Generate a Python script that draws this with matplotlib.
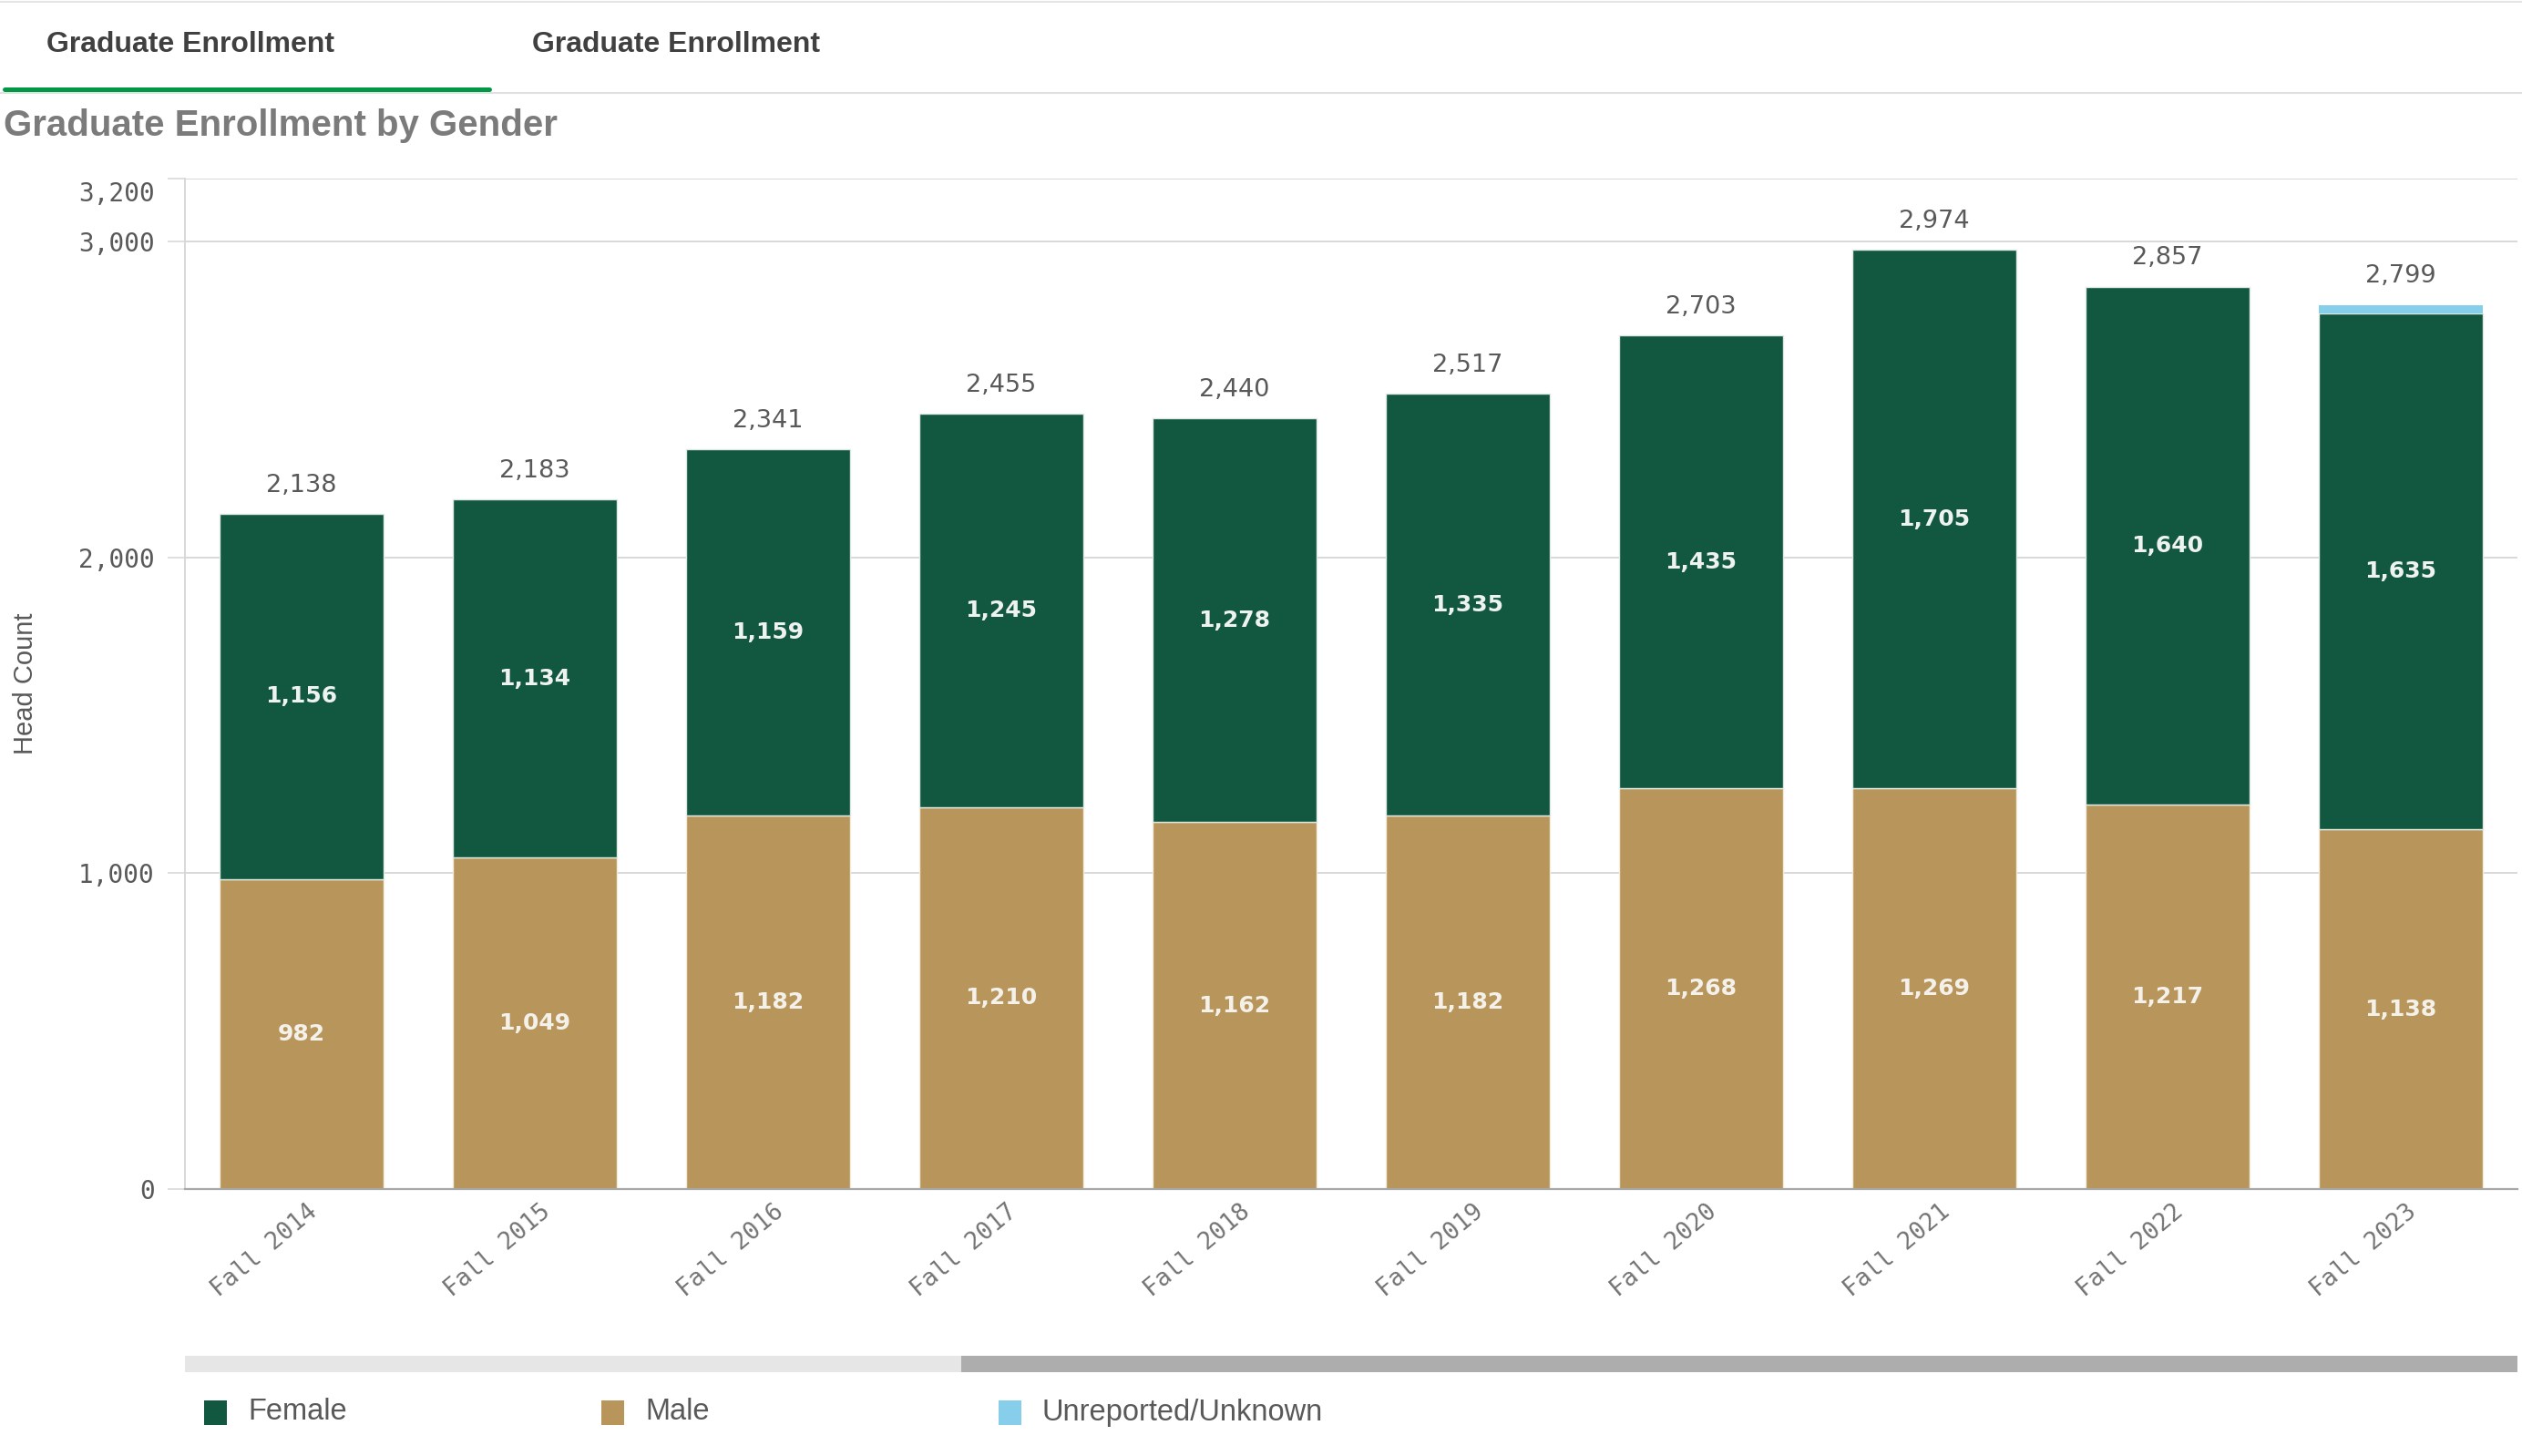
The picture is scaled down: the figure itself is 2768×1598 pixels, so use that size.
import numpy as np
import matplotlib
matplotlib.use("Agg")
import matplotlib.pyplot as plt
from matplotlib.patches import Rectangle
from matplotlib.lines import Line2D
from matplotlib.transforms import ScaledTranslation

# ---------------- data ----------------
terms = ["Fall 2014", "Fall 2015", "Fall 2016", "Fall 2017", "Fall 2018",
         "Fall 2019", "Fall 2020", "Fall 2021", "Fall 2022", "Fall 2023"]
male = [982, 1049, 1182, 1210, 1162, 1182, 1268, 1269, 1217, 1138]
female = [1156, 1134, 1159, 1245, 1278, 1335, 1435, 1705, 1640, 1635]
unknown = [0, 0, 0, 0, 0, 0, 0, 0, 0, 26]
series_names = ["Female", "Male", "Unreported/Unknown"]
series_colors = ["#125740", "#b8955a", "#87ceeb"]
y_ticks = [0, 1000, 2000, 3000, 3200]
y_tick_labels = ["0", "1,000", "2,000", "3,000", "3,200"]

W, H = 2768, 1598
fig = plt.figure(figsize=(W / 100, H / 100), dpi=100)
fig.patch.set_facecolor("white")

TEXT_FONT = ["Liberation Sans", "DejaVu Sans"]
NUM_FONT = ["DejaVu Sans Mono"]

ax_left, ax_right, ax_bottom_px, ax_top_px = 203, 2763, 1305, 195.6
ax = fig.add_axes([ax_left / W, 1 - ax_bottom_px / H,
                   (ax_right - ax_left) / W, (ax_bottom_px - ax_top_px) / H])

x = np.arange(len(terms))
male_a = np.array(male)
female_a = np.array(female)
unk_a = np.array(unknown)
totals = male_a + female_a + unk_a
bw = 0.70

ax.bar(x, male_a, bw, color=series_colors[1], edgecolor="#f2ece0", linewidth=1.0, zorder=3)
ax.bar(x, female_a, bw, bottom=male_a, color=series_colors[0], edgecolor="#dfe9e4", linewidth=1.0, zorder=3)
ax.bar(x, unk_a, bw, bottom=male_a + female_a, color=series_colors[2], linewidth=0, zorder=3)

# labels
for i in range(len(terms)):
    ax.text(x[i], male_a[i] / 2, f"{male_a[i]:,}", ha="center", va="center",
            color="#f4f1ea", fontsize=18, fontweight="bold", family=["DejaVu Sans"], zorder=4)
    ax.text(x[i], male_a[i] + female_a[i] / 2, f"{female_a[i]:,}", ha="center", va="center",
            color="#eef2f0", fontsize=18, fontweight="bold", family=["DejaVu Sans"], zorder=4)
    ax.annotate(f"{totals[i]:,}", xy=(x[i], totals[i]), xytext=(0, 22.5),
                textcoords="offset points", ha="center", va="center",
                color="#595959", fontsize=19.5, family=["DejaVu Sans"], zorder=4)

ax.set_xlim(-0.5, len(terms) - 0.5)
ax.set_ylim(0, 3200)

# grid & spines
ax.set_yticks(y_ticks)
ax.set_yticklabels(y_tick_labels, family=NUM_FONT, fontsize=20, color="#595959")
ax.yaxis.grid(True, color="#d6d6d6", linewidth=1.3, zorder=0)
ax.set_axisbelow(True)
ax.tick_params(axis="y", length=14, width=1.1, color="#d6d6d6", pad=10)
labels_y = ax.get_yticklabels()
labels_y[-1].set_va("top")
labels_y[-1].set_transform(labels_y[-1].get_transform() + ScaledTranslation(0, -0.03, fig.dpi_scale_trans))

for s in ["top", "right"]:
    ax.spines[s].set_visible(False)
ax.spines["left"].set_color("#d6d6d6")
ax.spines["left"].set_linewidth(1.3)
ax.spines["bottom"].set_color("#a8a8a8")
ax.spines["bottom"].set_linewidth(1.6)
ax.spines["bottom"].set_zorder(5)

ax.set_xticks(x)
ax.set_xticklabels(terms, family=NUM_FONT, fontsize=19, color="#737373",
                   rotation=40, ha="right", va="center", rotation_mode="anchor")
ax.tick_params(axis="x", length=0, pad=16)
for lbl in ax.get_xticklabels():
    lbl.set_transform(lbl.get_transform() + ScaledTranslation(0.14, 0, fig.dpi_scale_trans))

# y label
fig.text(28 / W, 1 - 750 / H, "Head Count", rotation=90, ha="center", va="center",
         fontsize=21, color="#595959", family=TEXT_FONT)

# header tabs
fig.add_artist(Line2D([0, 1], [1 - 1.5 / H] * 2, color="#e4e4e4", linewidth=1.5))
fig.text(51 / W, 1 - 49 / H, "Graduate Enrollment", ha="left", va="center",
         fontsize=23, fontweight="bold", color="#404040", family=TEXT_FONT)
fig.text(584 / W, 1 - 49 / H, "Graduate Enrollment", ha="left", va="center",
         fontsize=23, fontweight="bold", color="#404040", family=TEXT_FONT)
fig.add_artist(Line2D([0, 1], [1 - 102 / H] * 2, color="#e0e0e0", linewidth=1.5))
fig.add_artist(Line2D([5 / W, 537 / W], [1 - 98 / H] * 2, color="#009845", linewidth=3.6,
                      solid_capstyle="round"))

# title
fig.text(4 / W, 1 - 138 / H, "Graduate Enrollment by Gender", ha="left", va="center",
         fontsize=29, fontweight="bold", color="#7b7b7b", family=TEXT_FONT)

# scrollbar
fig.add_artist(Rectangle((203 / W, 1 - 1506 / H), (2763 - 203) / W, 18 / H,
                         transform=fig.transFigure, facecolor="#e6e6e6", edgecolor="none"))
fig.add_artist(Rectangle((1055 / W, 1 - 1506 / H), (2763 - 1055) / W, 18 / H,
                         transform=fig.transFigure, facecolor="#adadad", edgecolor="none"))

# legend
leg_x = [224, 660, 1096]
for name, col, lx in zip(series_names, series_colors, leg_x):
    fig.add_artist(Rectangle((lx / W, 1 - 1564 / H), 25 / W, 27 / H,
                             transform=fig.transFigure, facecolor=col, edgecolor="none"))
    fig.text((lx + 48) / W, 1 - 1550 / H, name, ha="left", va="center",
             fontsize=23.5, color="#595959", family=TEXT_FONT)

fig.savefig("out.png", dpi=100, facecolor="white")
